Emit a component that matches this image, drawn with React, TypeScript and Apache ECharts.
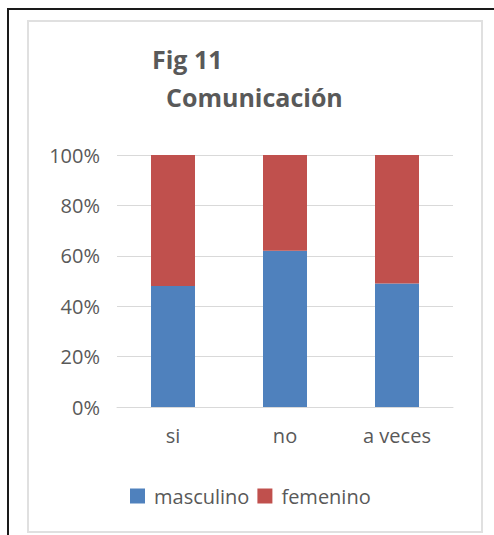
import React, { useEffect, useRef } from "react";
import * as echarts from "echarts";

const categories = ["si", "no", "a veces"];
const masculino = [48, 62, 49];
const femenino = [52, 38, 51];
const seriesNames = ["masculino", "femenino"];

export default function App() {
  const ref = useRef<HTMLDivElement>(null);
  useEffect(() => {
    if (!ref.current) return;
    const chart = echarts.init(ref.current, null, { renderer: "svg" });
    const font = "'Open Sans', sans-serif";
    chart.setOption({
      animation: false,
      backgroundColor: "#ffffff",
      title: [
        {
          text: "Fig 11",
          left: 147,
          top: 41,
          textStyle: { fontFamily: font, fontSize: 25, fontWeight: "bold", color: "#595959" },
        },
        {
          text: "Comunicación",
          left: 161,
          top: 79,
          textStyle: { fontFamily: font, fontSize: 25, fontWeight: "bold", color: "#595959" },
        },
      ],
      graphic: [
        {
          type: "rect",
          shape: { x: 8, y: 9, width: 700, height: 700 },
          style: { fill: "none", stroke: "#1a1a1a", lineWidth: 2 },
          silent: true,
        },
        {
          type: "rect",
          shape: { x: 28, y: 21, width: 454, height: 511 },
          style: { fill: "#fff", stroke: "#e0e0e0", lineWidth: 2 },
          silent: true,
          z: -1,
        },
      ],
      legend: {
        data: seriesNames,
        left: 125,
        top: 481,
        icon: "rect",
        itemWidth: 15,
        itemHeight: 15,
        itemGap: 8,
        textStyle: { fontFamily: font, fontSize: 20, color: "#595959", padding: [0, 0, 0, 4] },
      },
      grid: { left: 117, right: 41, top: 155, bottom: 128 },
      xAxis: {
        type: "category",
        data: categories,
        axisLine: { lineStyle: { color: "#d9d9d9" } },
        axisTick: { show: false },
        axisLabel: { fontFamily: font, fontSize: 20, color: "#595959", margin: 18 },
      },
      yAxis: {
        type: "value",
        min: 0,
        max: 100,
        interval: 20,
        axisLine: { show: false },
        axisTick: { show: false },
        splitLine: { lineStyle: { color: "#d9d9d9" } },
        axisLabel: {
          fontFamily: font,
          fontSize: 20,
          color: "#595959",
          margin: 17,
          formatter: (v: number) => v + "%",
        },
      },
      series: [
        {
          name: seriesNames[0],
          type: "bar",
          stack: "total",
          data: masculino,
          barWidth: 44,
          itemStyle: { color: "#4f81bd" },
        },
        {
          name: seriesNames[1],
          type: "bar",
          stack: "total",
          data: femenino,
          barWidth: 44,
          itemStyle: { color: "#c0504d" },
        },
      ],
    });
    return () => chart.dispose();
  }, []);
  return (
    <div
      ref={ref}
      style={{ position: "fixed", left: 0, top: 0, width: 494, height: 535 }}
    />
  );
}
